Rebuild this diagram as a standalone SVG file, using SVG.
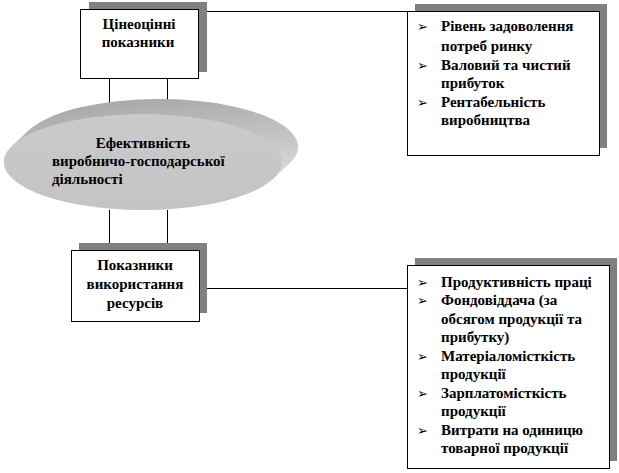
<svg xmlns="http://www.w3.org/2000/svg" width="619" height="473" viewBox="0 0 619 473">
<defs>
<linearGradient id="side" x1="0" y1="0" x2="0.3" y2="1">
<stop offset="0" stop-color="#a2a2a2"/>
<stop offset="0.6" stop-color="#c6c6c6"/>
<stop offset="1" stop-color="#e2e2e2"/>
</linearGradient>
<linearGradient id="face" x1="0" y1="0" x2="0" y2="1">
<stop offset="0" stop-color="#cacaca"/>
<stop offset="1" stop-color="#c4c4c4"/>
</linearGradient>
</defs>
<g id="connectors" stroke="#000" stroke-width="1" fill="none">
<line x1="197" y1="11.5" x2="407" y2="11.5"/>
<line x1="109.5" y1="79" x2="109.5" y2="107"/>
<line x1="167.5" y1="79" x2="167.5" y2="107"/>
<line x1="109.5" y1="210" x2="109.5" y2="243"/>
<line x1="167.5" y1="210" x2="167.5" y2="243"/>
<line x1="205" y1="288.5" x2="407" y2="288.5"/>
</g>
<g id="top-box">
<rect fill="#808080" x="89" y="2" width="118" height="70"/>
<rect fill="#fff" stroke="#000" x="80.5" y="9.5" width="118" height="69"/>
<g font-family="Liberation Serif" font-weight="bold" font-size="15" text-anchor="middle">
<text x="139" y="29">Цінеоцінні</text>
<text x="138" y="47">показники</text>
</g>
</g>
<g id="ellipse">
<path fill="url(#side)" d="M12.5,145.4 L28.5,130.4 A139,48 0 0 1 159,99 A139,48 0 0 1 289.5,163.6 L273.5,178.6 A139,48 0 0 1 143,210 A139,48 0 0 1 12.5,145.4 Z"/>
<ellipse fill="url(#face)" cx="143" cy="162" rx="139" ry="48"/>
<g font-family="Liberation Serif" font-weight="bold" font-size="15">
<text text-anchor="middle" x="143" y="148">Ефективність</text>
<text x="52" y="166">виробничо-господарської</text>
<text x="52" y="184">діяльності</text>
</g>
</g>
<g id="bottom-box">
<rect fill="#808080" x="79" y="243" width="128" height="70"/>
<rect fill="#fff" stroke="#000" x="71.5" y="250.5" width="128" height="71"/>
<g font-family="Liberation Serif" font-weight="bold" font-size="15" text-anchor="middle">
<text x="135" y="270">Показники</text>
<text x="135" y="289">використання</text>
<text x="135" y="308">ресурсів</text>
</g>
</g>
<g id="top-right-box">
<rect fill="#808080" x="415" y="4" width="192" height="144"/>
<rect fill="#fff" stroke="#000" x="407.5" y="11.5" width="192" height="144"/>
<g font-family="DejaVu Sans" font-weight="bold" font-size="13">
<text x="417" y="31">➢</text>
<text x="417" y="70">➢</text>
<text x="417" y="107">➢</text>
</g>
<g font-family="Liberation Serif" font-weight="bold" font-size="15">
<text x="441" y="31">Рівень задоволення</text>
<text x="441" y="51">потреб ринку</text>
<text x="441" y="70">Валовий та чистий</text>
<text x="441" y="88">прибуток</text>
<text x="441" y="107">Рентабельність</text>
<text x="441" y="125">виробництва</text>
</g>
</g>
<g id="bottom-right-box">
<rect fill="#808080" x="415" y="258" width="202" height="203"/>
<rect fill="#fff" stroke="#000" x="407.5" y="265.5" width="202" height="203"/>
<g font-family="DejaVu Sans" font-weight="bold" font-size="13">
<text x="417" y="287">➢</text>
<text x="417" y="305">➢</text>
<text x="417" y="361">➢</text>
<text x="417" y="398">➢</text>
<text x="417" y="435">➢</text>
</g>
<g font-family="Liberation Serif" font-weight="bold" font-size="15">
<text x="441" y="287">Продуктивність праці</text>
<text x="441" y="305">Фондовіддача (за</text>
<text x="441" y="324">обсягом продукції та</text>
<text x="441" y="342">прибутку)</text>
<text x="441" y="361">Матеріаломісткість</text>
<text x="441" y="379">продукції</text>
<text x="441" y="398">Зарплатомісткість</text>
<text x="441" y="416">продукції</text>
<text x="441" y="435">Витрати на одиницю</text>
<text x="441" y="453">товарної продукції</text>
</g>
</g>
</svg>
